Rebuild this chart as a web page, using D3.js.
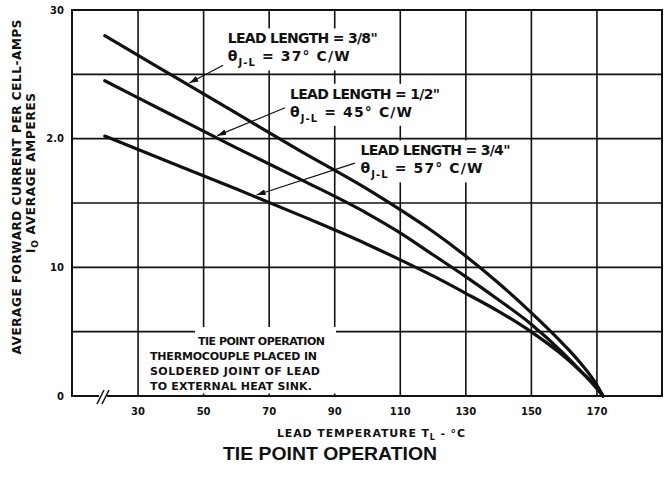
<!DOCTYPE html>
<html>
<head>
<meta charset="utf-8">
<script src="https://cdn.jsdelivr.net/npm/d3@7/dist/d3.min.js"></script>
<style>
  body { margin: 0; background: #fff; }
  svg text { font-family: "DejaVu Sans", sans-serif; font-weight: bold; fill: #111; }
</style>
</head>
<body>
<svg></svg>
<script>
// Lead temperature (deg C) at which the curves were read
var temps = [20, 40, 60, 80, 100, 110, 120, 130, 140, 150, 160, 165, 170, 172];
// Average forward current per cell (amps) for each lead length
var amps38 = [2.80, 2.50, 2.20, 1.90, 1.61, 1.45, 1.28, 1.09, 0.88, 0.65, 0.40, 0.26, 0.09, 0];
var amps12 = [2.45, 2.19, 1.93, 1.68, 1.42, 1.27, 1.10, 0.93, 0.75, 0.56, 0.33, 0.20, 0.06, 0];
var amps34 = [2.02, 1.815, 1.61, 1.40, 1.18, 1.06, 0.935, 0.80, 0.66, 0.50, 0.31, 0.195, 0.07, 0];

var xTicks = [30, 50, 70, 90, 110, 130, 150, 170];
var yTicks = [0, 1, 2, 3];
var yTickLabels = ["0", "10", "2.0", "30"];
var yGrid = [0.5, 1, 1.5, 2, 2.5];

var leadLengths = ['3/8"', '1/2"', '3/4"'];
var thetas = ["37", "45", "57"];
var noteLines = ["TIE POINT OPERATION", "THERMOCOUPLE PLACED IN", "SOLDERED JOINT OF LEAD", "TO EXTERNAL HEAT SINK."];

var svgW = 664, svgH = 479;
var svg = d3.select("svg").attr("width", svgW).attr("height", svgH);

var xScale = d3.scaleLinear().domain([10, 190]).range([72, 662]);
var yScale = d3.scaleLinear().domain([0, 3]).range([396, 10]);
var plotH = yScale(0) - yScale(3);
var ink = "#111";

// vertical grid lines + x labels
var xAxis = svg.append("g")
  .attr("transform", "translate(0," + yScale(0) + ")")
  .attr("font-size", 11)
  .call(d3.axisBottom(xScale).tickValues(xTicks).tickSize(-plotH).tickPadding(12));
xAxis.select(".domain").remove();
xAxis.selectAll("line").attr("stroke", ink).attr("stroke-width", 1.6);

// horizontal grid lines
svg.append("g").selectAll("line")
  .data(yGrid).enter().append("line")
  .attr("x1", xScale(10)).attr("x2", xScale(190))
  .attr("y1", function(d) { return yScale(d); })
  .attr("y2", function(d) { return yScale(d); })
  .attr("stroke", ink).attr("stroke-width", 1.6);

// y labels
var yAxis = svg.append("g")
  .attr("transform", "translate(" + xScale(10) + ",0)")
  .attr("font-size", 11)
  .call(d3.axisLeft(yScale).tickValues(yTicks).tickSize(0).tickPadding(8)
    .tickFormat(function(d, i) { return yTickLabels[i]; }));
yAxis.select(".domain").remove();

// frame
svg.append("rect")
  .attr("x", xScale(10)).attr("y", yScale(3))
  .attr("width", xScale(190) - xScale(10)).attr("height", plotH)
  .attr("fill", "none").attr("stroke", ink).attr("stroke-width", 2);

// axis break "//"
svg.append("rect").attr("x", 99).attr("y", yScale(0) - 3).attr("width", 8).attr("height", 6).attr("fill", "#fff");
[0, 5].forEach(function(o) {
  svg.append("line")
    .attr("x1", 97 + o).attr("y1", yScale(0) + 8)
    .attr("x2", 104 + o).attr("y2", yScale(0) - 6)
    .attr("stroke", ink).attr("stroke-width", 1.6);
});

// note box in lower left
svg.append("rect")
  .attr("x", xScale(31)).attr("y", yScale(0.48))
  .attr("width", xScale(91) - xScale(31)).attr("height", yScale(0.02) - yScale(0.48))
  .attr("fill", "#fff");
svg.append("rect").attr("x", 195).attr("y", 327).attr("width", 141).attr("height", 21).attr("fill", "#fff");
var noteX = [198, 150, 150, 150];
var noteY = [345, 360, 375, 390];
var noteLen = [127, 167, 170, 162];
noteLines.forEach(function(s, i) {
  svg.append("text")
    .attr("x", noteX[i]).attr("y", noteY[i])
    .attr("font-size", 11)
    .attr("textLength", noteLen[i])
    .text(s);
});

// curve labels (positions in data units)
var labelAt = [[57.5, 2.74], [76.5, 2.31], [98, 1.87]];
var tailAt = [[56.1, 2.57], [75, 2.24], [96.3, 1.81]];
var tipT = [45.5, 54, 66];
var series = [amps38, amps12, amps34];

leadLengths.forEach(function(len, i) {
  var g = svg.append("g");
  var lx = xScale(labelAt[i][0]), ly = yScale(labelAt[i][1]);
  g.append("text")
    .attr("x", lx).attr("y", ly)
    .attr("font-size", 14)
    .attr("textLength", 150)
    .text("LEAD LENGTH = " + len);
  var t2 = g.append("text")
    .attr("x", lx).attr("y", ly + 18)
    .attr("font-size", 14)
    .attr("textLength", 122);
  t2.append("tspan").text("\u03B8");
  t2.append("tspan").attr("dy", 5).attr("font-size", 10).text("J-L");
  t2.append("tspan").attr("dy", -5).text(" = " + thetas[i] + "\u00B0 C/W");
  var bb = g.node().getBBox();
  g.insert("rect", ":first-child")
    .attr("x", bb.x - 5).attr("y", bb.y - 2)
    .attr("width", bb.width + 9).attr("height", bb.height + 4)
    .attr("fill", "#fff");
});

// curves
var line = d3.line()
  .x(function(d) { return xScale(d[0]); })
  .y(function(d) { return yScale(d[1]); })
  .curve(d3.curveMonotoneX);

series.forEach(function(vals) {
  svg.append("path")
    .datum(temps.map(function(t, k) { return [t, vals[k]]; }))
    .attr("d", line)
    .attr("fill", "none")
    .attr("stroke", ink)
    .attr("stroke-width", 3.2)
    .attr("stroke-linecap", "round");
});

// pointer arrows
svg.append("defs").append("marker")
  .attr("id", "arrow")
  .attr("viewBox", "0 0 9 6")
  .attr("refX", 9).attr("refY", 3)
  .attr("markerWidth", 9).attr("markerHeight", 6)
  .attr("markerUnits", "userSpaceOnUse")
  .attr("orient", "auto")
  .append("path").attr("d", "M0,0 L9,3 L0,6 z").attr("fill", ink);

function valueAt(vals, t) {
  for (var k = 1; k < temps.length; k++) {
    if (t <= temps[k]) {
      var f = (t - temps[k - 1]) / (temps[k] - temps[k - 1]);
      return vals[k - 1] + f * (vals[k] - vals[k - 1]);
    }
  }
  return vals[vals.length - 1];
}

series.forEach(function(vals, i) {
  svg.append("line")
    .attr("x1", xScale(tailAt[i][0])).attr("y1", yScale(tailAt[i][1]))
    .attr("x2", xScale(tipT[i]) + 1).attr("y2", yScale(valueAt(vals, tipT[i])) - 2)
    .attr("stroke", ink).attr("stroke-width", 1.2)
    .attr("marker-end", "url(#arrow)");
});

// axis titles
svg.append("text")
  .attr("transform", "translate(21,187) rotate(-90)")
  .attr("text-anchor", "middle")
  .attr("font-size", 12)
  .attr("textLength", 335)
  .text("AVERAGE FORWARD CURRENT PER CELL-AMPS");

var yt2 = svg.append("text")
  .attr("transform", "translate(35,173) rotate(-90)")
  .attr("text-anchor", "middle")
  .attr("font-size", 12)
  .attr("textLength", 160);
yt2.append("tspan").text("I");
yt2.append("tspan").attr("dy", 3).attr("font-size", 9).text("O");
yt2.append("tspan").attr("dy", -3).text(" AVERAGE AMPERES");

var xt = svg.append("text")
  .attr("x", 277).attr("y", 437)
  .attr("font-size", 11)
  .attr("textLength", 188);
xt.append("tspan").text("LEAD TEMPERATURE T");
xt.append("tspan").attr("dy", 3).attr("font-size", 8).text("L");
xt.append("tspan").attr("dy", -3).text(" - \u00B0C");

svg.append("text")
  .attr("x", 330).attr("y", 460)
  .attr("text-anchor", "middle")
  .style("font-family", "'Liberation Sans', Arial, sans-serif")
  .attr("font-size", 19)
  .attr("textLength", 214)
  .attr("lengthAdjust", "spacingAndGlyphs")
  .text("TIE POINT OPERATION");
</script>
</body>
</html>
